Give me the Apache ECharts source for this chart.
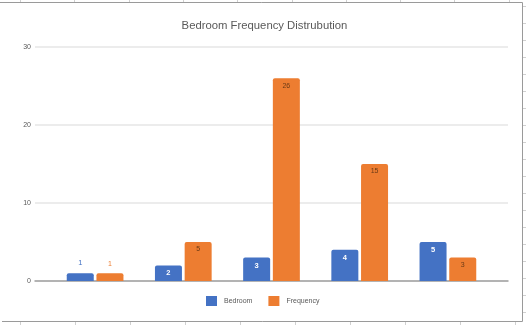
<!DOCTYPE html>
<html>
<head>
<meta charset="utf-8">
<script src="https://cdn.jsdelivr.net/npm/echarts@6/dist/echarts.min.js"></script>
<style>
  html, body { margin: 0; padding: 0; background: #fff; }
  #chart { width: 529px; height: 325px; }
</style>
</head>
<body>
<div id="chart"></div>
<script>
// Bedroom counts and how often each one occurs
const categories = ['1', '2', '3', '4', '5'];
const bedroom = [1, 2, 3, 4, 5];
const frequency = [1, 5, 26, 15, 3];
const yTicks = [0, 10, 20, 30];

const BLUE = '#4472C4';
const ORANGE = '#ED7D31';
const FONT = 'Liberation Sans';

// Short bars carry their value above the bar, taller ones inside the top
function barData(values, color, insideColor, bold) {
  return values.map(v => ({
    value: v,
    label: v <= 1
      ? { position: 'top', distance: 6, color: color, fontWeight: 'normal' }
      : { position: 'insideTop', distance: 4, color: insideColor, fontWeight: bold ? 'bold' : 'normal' }
  }));
}

// Worksheet cell borders around the chart object
const frame = [];
const lineStyle = { stroke: '#9a9a9a', lineWidth: 1 };
frame.push({ type: 'line', shape: { x1: 0, y1: 2.5, x2: 522.5, y2: 2.5 }, style: lineStyle, silent: true });
frame.push({ type: 'line', shape: { x1: 522.5, y1: 2.5, x2: 522.5, y2: 321.5 }, style: lineStyle, silent: true });
frame.push({ type: 'line', shape: { x1: 2, y1: 321.5, x2: 522.5, y2: 321.5 }, style: lineStyle, silent: true });
const tickStyle = { stroke: '#d0d0d0', lineWidth: 1 };
for (let k = 0; k < 10; k++) {
  const xt = Math.round(20 + 54.3 * k) + 0.5;
  frame.push({ type: 'line', shape: { x1: xt, y1: 0, x2: xt, y2: 2 }, style: tickStyle, silent: true });
  const xb = Math.round(20 + 55 * k) + 0.5;
  frame.push({ type: 'line', shape: { x1: xb, y1: 322, x2: xb, y2: 325 }, style: tickStyle, silent: true });
}
for (let k = 0; k < 19; k++) {
  const y = 6 + 17 * k + 0.5;
  frame.push({ type: 'line', shape: { x1: 523, y1: y, x2: 526, y2: y }, style: tickStyle, silent: true });
}

const chart = echarts.init(document.getElementById('chart'));
chart.setOption({
  animation: false,
  backgroundColor: '#ffffff',
  textStyle: { fontFamily: FONT },
  title: {
    text: 'Bedroom Frequency Distrubution',
    left: 'center',
    top: 15,
    textStyle: { fontFamily: FONT, fontSize: 11.3, fontWeight: 'normal', color: '#595959' }
  },
  legend: {
    left: 201,
    top: 291,
    itemWidth: 11,
    itemHeight: 10,
    itemGap: 16,
    icon: 'rect',
    data: ['Bedroom', 'Frequency'],
    textStyle: { fontFamily: FONT, fontSize: 7, color: '#595959', padding: [0, 0, 0, 2] }
  },
  grid: [
    // full-width gridlines and value labels
    { left: 35, right: 21, top: 47, bottom: 44 },
    // bar area, inset from the gridline ends
    { left: 51, right: 37, top: 47, bottom: 44 }
  ],
  xAxis: [
    {
      gridIndex: 0, type: 'value', min: 0, max: 1,
      axisLine: { show: true, onZero: false, lineStyle: { color: '#a0a0a0', width: 1.5 } },
      axisTick: { show: false }, axisLabel: { show: false }, splitLine: { show: false }
    },
    {
      gridIndex: 1, type: 'category', data: categories,
      axisLine: { show: false }, axisTick: { show: false }, axisLabel: { show: false }
    }
  ],
  yAxis: [
    {
      gridIndex: 0, type: 'value', min: yTicks[0], max: yTicks[yTicks.length - 1], interval: 10,
      axisLine: { show: false }, axisTick: { show: false },
      axisLabel: { fontFamily: FONT, fontSize: 7, color: '#595959', margin: 4 },
      splitLine: { show: true, lineStyle: { color: '#e6e6e6', width: 1.5 } }
    },
    {
      gridIndex: 1, type: 'value', min: yTicks[0], max: yTicks[yTicks.length - 1], interval: 10,
      show: false, splitLine: { show: false }
    }
  ],
  series: [
    {
      name: 'Bedroom', type: 'bar', xAxisIndex: 1, yAxisIndex: 1,
      barWidth: 27, barGap: '10%',
      itemStyle: { color: BLUE, borderRadius: [2, 2, 0, 0] },
      label: { show: true, formatter: '{c}', fontFamily: FONT, fontSize: 7.5 },
      data: barData(bedroom, BLUE, '#ffffff', true),
      z: 3
    },
    {
      name: 'Frequency', type: 'bar', xAxisIndex: 1, yAxisIndex: 1,
      barWidth: 27, barGap: '10%',
      itemStyle: { color: ORANGE, borderRadius: [2, 2, 0, 0] },
      label: { show: true, formatter: '{c}', fontFamily: FONT, fontSize: 7 },
      data: barData(frequency, ORANGE, '#6b3a16', false),
      z: 3
    }
  ],
  graphic: frame
});
</script>
</body>
</html>
